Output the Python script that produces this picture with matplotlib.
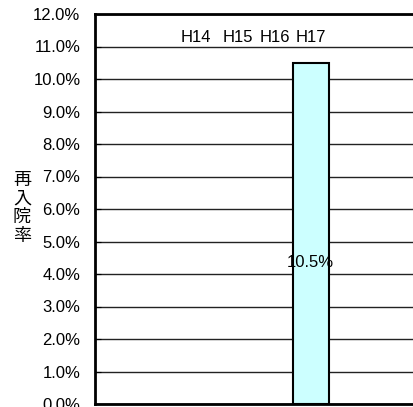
import matplotlib.pyplot as plt
import numpy as np

# データ
categories = ["H14", "H15", "H16", "H17"]
values = [np.nan, np.nan, np.nan, 10.5]  # 再入院率 (%)
yticks = np.arange(0, 13, 1)

plt.rcParams['font.family'] = ['Liberation Sans', 'DejaVu Sans']

fig = plt.figure(figsize=(4.13, 4.07), dpi=100)
ax = fig.add_axes([95 / 413, 3 / 407, 1 - 95 / 413 + 0.01, 390 / 407])

x = np.arange(len(categories))
ax.bar(x, values, width=0.6, color='#CCFFFF', edgecolor='black', linewidth=1.5, zorder=3)

# 値ラベル
for xi, v in zip(x, values):
    if not np.isnan(v):
        ax.text(xi, 4.35, f"{v:.1f}%", ha='center', va='center', fontsize=12, zorder=4)

# カテゴリ名を上部に
label_pos = [1.117, 1.8, 2.417, 3.0]
for xp, c in zip(label_pos, categories):
    ax.text(xp, 11.27, c, ha='center', va='center', fontsize=12)

ax.set_xlim(-0.55, 4.75)
ax.set_ylim(0, 12)
ax.set_yticks(yticks)
ax.set_yticklabels([f"{t:.1f}%" for t in yticks], fontsize=12)
ax.set_xticks([])
ax.tick_params(axis='y', direction='in', length=4, pad=10.5)

ax.yaxis.grid(True, color='#222222', linewidth=1)
ax.set_axisbelow(True)

for s in ['right']:
    ax.spines[s].set_visible(False)
for s in ['left', 'top', 'bottom']:
    ax.spines[s].set_linewidth(2)

fig.text(22 / 413, 1 - 208 / 407, "再\n入\n院\n率", ha='center', va='center',
         fontsize=13, family=['Noto Sans CJK JP', 'DejaVu Sans'], linespacing=1.05)

fig.savefig("out.png", dpi=100)
